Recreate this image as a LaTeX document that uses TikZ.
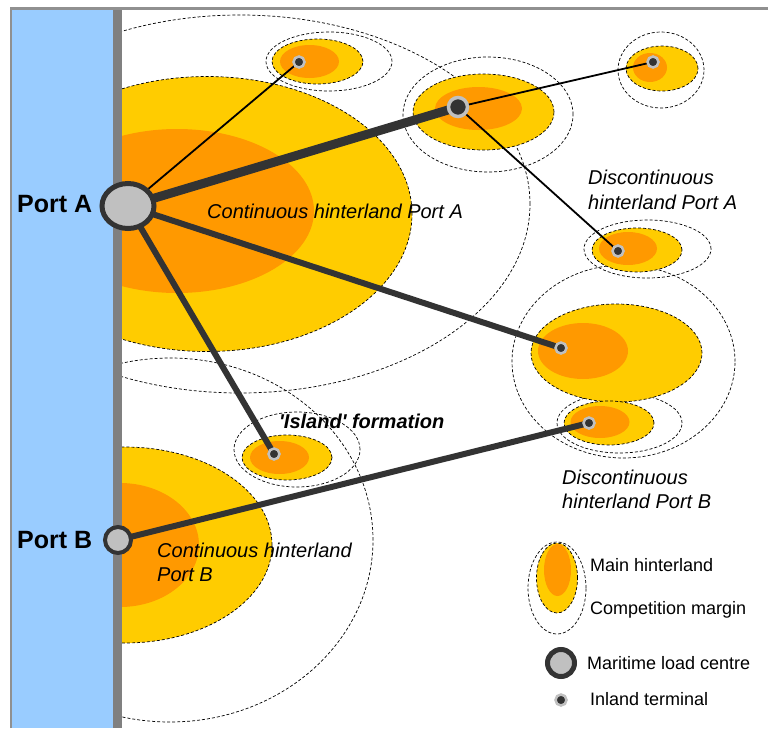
\documentclass[tikz,border=0pt]{standalone}
\usepackage{fontspec}
\setmainfont{Liberation Sans}
\usetikzlibrary{shapes.geometric}
\definecolor{yel}{HTML}{FFCC00}
\definecolor{org}{HTML}{FF9900}
\definecolor{blu}{HTML}{99CCFF}
\definecolor{barg}{HTML}{808080}
\definecolor{frm}{HTML}{909090}
\definecolor{dk}{HTML}{333333}
\definecolor{lg}{HTML}{C0C0C0}
\pgfdeclarelayer{hint}
\pgfdeclarelayer{links}
\pgfsetlayers{hint,links,main}
\tikzset{
  hd/.style={draw=black, dash pattern=on 3pt off 2pt, line width=0.7pt},
  yfill/.style={fill=yel, hd},
  ofill/.style={fill=org},
  term/.style={circle, fill=dk, draw=lg, line width=2.5pt, minimum size=11pt, inner sep=0pt},
  bigterm/.style={term, line width=3.5pt, minimum size=19pt},
  lnkthin/.style={draw=black, line width=1.8pt},
  lnkmed/.style={draw=dk, line width=6pt},
  lnkbig/.style={draw=dk, line width=9pt},
  lab/.style={anchor=base west, inner sep=0pt, font=\fontsize{20}{24}\selectfont\itshape},
  leg/.style={anchor=base west, inner sep=0pt, font=\fontsize{18}{22}\selectfont},
  portlab/.style={anchor=base west, inner sep=0pt, font=\fontsize{25}{30}\selectfont\bfseries},
}
\begin{document}
\begin{tikzpicture}[x=1pt,y=-1pt]
\useasboundingbox (0,0) rectangle (768,728);

% nodes
\node[ellipse, draw=dk, fill=lg, line width=5pt, minimum width=52pt, minimum height=45pt, inner sep=0pt] (pa) at (128,206) {};
\node[circle, draw=dk, fill=lg, line width=4pt, minimum size=26pt, inner sep=0pt] (pb) at (118,540) {};
\node[term] (t1) at (299,62) {};
\node[bigterm] (t2) at (458,107) {};
\node[term] (t3) at (653,62) {};
\node[term] (t4) at (618,251) {};
\node[term] (t5) at (561,348) {};
\node[term] (t6) at (589,423) {};
\node[term] (t7) at (274,454) {};

\begin{pgfonlayer}{hint}
  \fill[white] (0,0) rectangle (768,728);
  \begin{scope}
  \clip (122,9) rectangle (768,728);
  % outer competition margins
  \draw[hd] (240,204) ellipse [x radius=290pt, y radius=189pt];
  \draw[hd] (170,540) ellipse [x radius=203pt, y radius=182pt];
  \draw[hd] (329,61.5) ellipse [x radius=63pt, y radius=29.5pt];
  \draw[hd] (488,114.5) ellipse [x radius=85pt, y radius=57.5pt];
  \draw[hd] (661,70) ellipse [x radius=43pt, y radius=38pt];
  \draw[hd] (647.5,249) ellipse [x radius=63.5pt, y radius=29pt];
  \draw[hd] (623.5,361.5) ellipse [x radius=111.5pt, y radius=96.5pt];
  \draw[hd] (619.5,423) ellipse [x radius=62.5pt, y radius=30pt];
  \draw[hd] (297,449.5) ellipse [x radius=63pt, y radius=37.5pt];
  % main hinterlands
  \path[yfill] (207,214) ellipse [x radius=205pt, y radius=137.5pt];
  \path[ofill] (177,211) ellipse [x radius=137pt, y radius=82pt];
  \path[yfill] (125,545) ellipse [x radius=147pt, y radius=98pt];
  \path[ofill] (120,545) ellipse [x radius=79pt, y radius=62pt];
  \path[yfill] (317.5,61.5) ellipse [x radius=45.5pt, y radius=22.5pt];
  \path[ofill] (309.5,61.5) ellipse [x radius=29.5pt, y radius=16.5pt];
  \path[yfill] (483.5,112) ellipse [x radius=70.5pt, y radius=38pt];
  \path[ofill] (478.5,108.5) ellipse [x radius=43.5pt, y radius=21.5pt];
  \path[yfill] (662,68.5) ellipse [x radius=36pt, y radius=22.5pt];
  \path[ofill] (650,67.5) ellipse [x radius=17pt, y radius=14.5pt];
  \path[yfill] (637,250) ellipse [x radius=45pt, y radius=22pt];
  \path[ofill] (628,248.5) ellipse [x radius=29pt, y radius=16.5pt];
  \path[yfill] (616.5,353) ellipse [x radius=85.5pt, y radius=49pt];
  \path[ofill] (583,351) ellipse [x radius=45pt, y radius=28pt];
  \path[yfill] (609,423) ellipse [x radius=45pt, y radius=22pt];
  \path[ofill] (600,422) ellipse [x radius=29.5pt, y radius=16pt];
  \path[yfill] (287,457.5) ellipse [x radius=45pt, y radius=22.5pt];
  \path[ofill] (279.5,457.5) ellipse [x radius=29.5pt, y radius=16.5pt];
  \end{scope}
  % sea and quay
  \fill[blu] (11,9) rectangle (113,728);
  \fill[barg] (113,9) rectangle (122,728);
  \draw[frm, line width=2.5pt] (11,728) -- (11,8.5) -- (768,8.5);
\end{pgfonlayer}

\begin{pgfonlayer}{links}
  \draw[lnkthin] (pa.center) -- (t1.center);
  \draw[lnkbig] (pa.center) -- (t2.center);
  \draw[lnkthin] (t2.center) -- (t3.center);
  \draw[lnkthin] (t2.center) -- (t4.center);
  \draw[lnkmed] (pa.center) -- (t5.center);
  \draw[lnkmed] (pa.center) -- (t7.center);
  \draw[lnkmed] (pb.center) -- (t6.center);
\end{pgfonlayer}

% labels
\node[portlab] (lpa) at (17,212) {Port A};
\node[portlab] (lpb) at (17,548) {Port B};
\node[lab] (lca) at (207,218) {Continuous hinterland Port A};
\node[lab] (lda1) at (588,184) {Discontinuous};
\node[lab] (lda2) at (588,209) {hinterland Port A};
\node[lab] (ldb1) at (562,484) {Discontinuous};
\node[lab] (ldb2) at (562,508) {hinterland Port B};
\node[lab] (lcb1) at (157,557) {Continuous hinterland};
\node[lab] (lcb2) at (157,581) {Port B};
\node[lab, font=\fontsize{20}{24}\selectfont\bfseries\itshape] (lis) at (279,428) {\textquotesingle Island\textquotesingle\ formation};

% legend
\draw[hd] (557,588) ellipse [x radius=29pt, y radius=46pt];
\path[yfill] (557,578) ellipse [x radius=20.5pt, y radius=35pt];
\path[ofill] (557.5,570) ellipse [x radius=13.5pt, y radius=26pt];
\node[circle, draw=dk, fill=lg, line width=5pt, minimum size=27pt, inner sep=0pt] (lgmc) at (561,663) {};
\node[term] (lgit) at (561,700) {};
\node[leg] (lg1) at (590,571) {Main hinterland};
\node[leg] (lg2) at (590,614) {Competition margin};
\node[leg] (lg3) at (587,669) {Maritime load centre};
\node[leg] (lg4) at (590,705) {Inland terminal};
\end{tikzpicture}
\end{document}
